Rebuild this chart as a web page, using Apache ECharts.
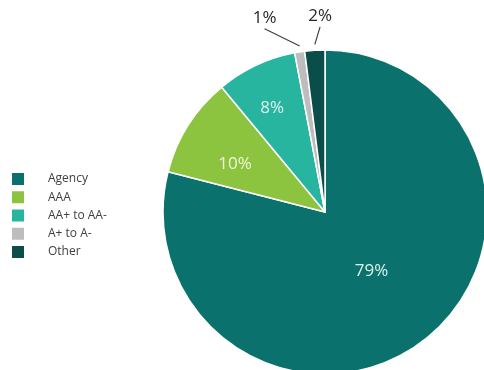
<!DOCTYPE html>
<html lang="en">

<head>
    <meta charset="UTF-8">
    <title>Credit quality</title>
    <script src="https://cdn.jsdelivr.net/npm/echarts@6/dist/echarts.min.js"></script>
    <style>
        * {
            margin: 0;
            padding: 0;
        }

        #chart {
            width: 484px;
            height: 370px;
            background: #fff;
        }
    </style>
</head>

<body>
    <div id="chart"></div>
    <script>
        // data
        const categories = ['Agency', 'AAA', 'AA+ to AA-', 'A+ to A-', 'Other']
        const shares = [79, 10, 8, 1, 2]
        const colors = ['#0a716c', '#8cc43f', '#27b5a0', '#bdbdbd', '#0b4d49']

        const insideNames = ['Agency', 'AAA', 'AA+ to AA-']
        // push small inside labels further out, and spread the two tiny ones
        const labelShift = {
            'Agency': [-5, -7],
            'AAA': [-19, -3],
            'AA+ to AA-': [-17, -28],
            'A+ to A-': [-16, -20],
            'Other': [23, -20]
        }

        const myChart = echarts.init(document.querySelector('#chart'))

        const pieData = categories.map((name, i) => {
            const inside = insideNames.indexOf(name) > -1
            return {
                name: name,
                value: shares[i],
                itemStyle: { color: colors[i] },
                label: inside ? {
                    position: 'inside',
                    color: i === 1 ? '#eef7dc' : '#ddf3ee'
                } : {
                    position: 'outside',
                    color: '#262626'
                },
                labelLine: { show: !inside }
            }
        })

        const option = {
            animation: false,
            color: colors,
            textStyle: {
                fontFamily: 'Open Sans'
            },
            legend: {
                orient: 'vertical',
                left: 10,
                top: 171,
                padding: 0,
                itemWidth: 14,
                itemHeight: 14,
                itemGap: 2.25,
                icon: 'rect',
                data: categories,
                textStyle: {
                    fontSize: 12,
                    lineHeight: 14,
                    color: '#404040',
                    padding: [0, 0, 0, 18]
                }
            },
            series: [{
                type: 'pie',
                center: [325, 212],
                radius: 162,
                startAngle: 90,
                clockwise: true,
                avoidLabelOverlap: false,
                itemStyle: {
                    borderColor: '#fff',
                    borderWidth: 1.5
                },
                label: {
                    formatter: '{c}%',
                    fontSize: 17,
                    fontFamily: 'Open Sans'
                },
                labelLine: {
                    length: 14,
                    length2: 0,
                    lineStyle: { color: '#404040', width: 1.2 }
                },
                labelLayout: function (params) {
                    const s = labelShift[categories[params.dataIndex]] || [0, 0]
                    const out = { dx: s[0], dy: s[1] }
                    const pts = params.labelLinePoints
                    if (pts && insideNames.indexOf(categories[params.dataIndex]) < 0) {
                        const r = params.labelRect
                        // from just above the slice to under the moved label
                        const end = [r.x + s[0] + r.width / 2, r.y + s[1] + r.height + 2]
                        const start = [pts[0][0], pts[0][1] - 6]
                        out.labelLinePoints = [start, end, end]
                    }
                    return out
                },
                data: pieData
            }]
        }

        myChart.setOption(option)
    </script>
</body>

</html>
